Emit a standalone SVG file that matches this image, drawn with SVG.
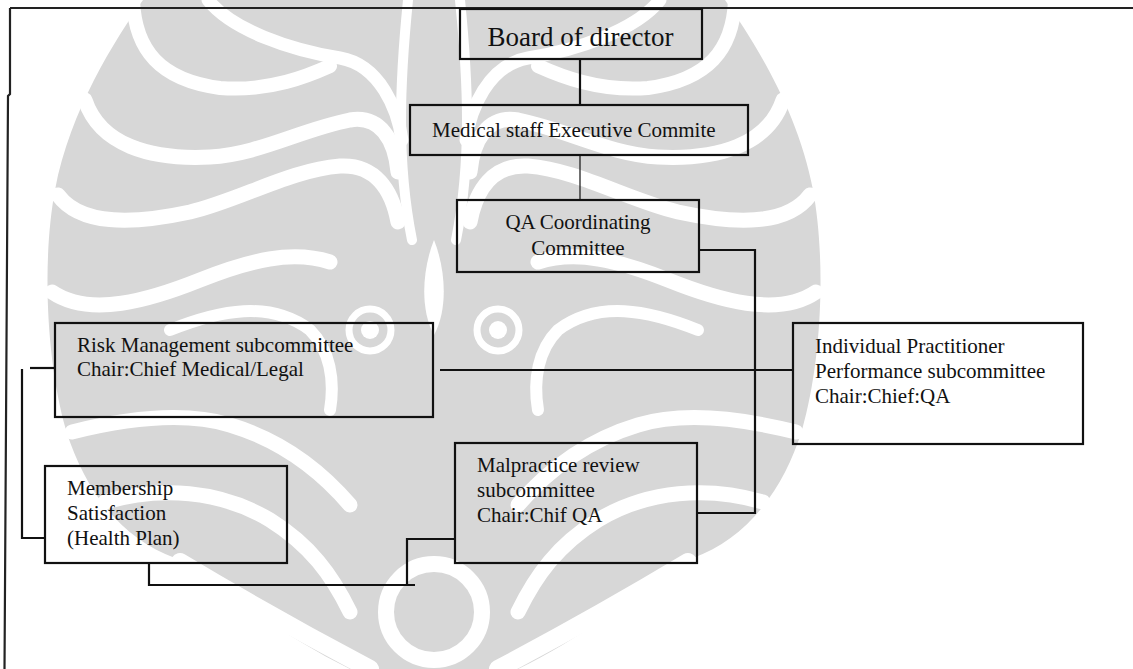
<svg xmlns="http://www.w3.org/2000/svg" width="1133" height="669" viewBox="0 0 1133 669">
  <style>
    .box { fill: none; stroke: #111; stroke-width: 2.2; }
    .lbl { font-family: "Liberation Serif", "Times New Roman", serif; font-size: 21px; fill: #111; }
    .wire { fill: none; stroke: #111; stroke-width: 2.2; }
    .thin { fill: none; stroke: #111; stroke-width: 1.2; }
    .orn { fill: #d7d7d7; }
    .gap { fill: none; stroke: #fff; stroke-linecap: round; }
  </style>
  <defs>
    <!-- one half of the background ornament; mirrored about x=434 -->
    <g id="ornHalf">
      <path class="orn" d="M434,0 L143,0 C115,40 70,110 55,190 C42,260 46,360 66,430 C86,495 125,540 175,558 C230,595 290,640 350,669 L434,669 Z"/>
      <path class="gap" stroke-width="14" d="M133,0 C135,50 160,80 220,88 C270,92 310,75 330,66"/>
      <path class="gap" stroke-width="13" d="M208,0 C232,30 290,50 340,58 C380,65 398,110 402,140"/>
      <path class="gap" stroke-width="15" d="M85,100 C100,145 150,160 210,157 C260,154 300,130 350,120 C380,115 395,140 398,172"/>
      <path class="gap" stroke-width="15" d="M58,195 C80,225 130,225 190,212 C240,200 290,170 340,166 C375,164 392,190 398,222"/>
      <path class="gap" stroke-width="15" d="M52,292 C90,318 150,300 200,280 C250,260 292,250 330,262"/>
      <path class="gap" stroke-width="12" d="M170,330 C220,310 270,300 310,330 C330,350 335,380 330,410"/>
      <path class="gap" stroke-width="15" d="M72,432 C120,420 180,410 230,425 C280,440 320,470 350,505"/>
      <path class="gap" stroke-width="15" d="M105,502 C160,486 220,490 270,520 C310,545 332,575 350,612"/>
      <path class="gap" stroke-width="10" d="M408,0 C400,80 396,160 412,240"/>
      <path class="gap" stroke-width="18" d="M180,562 C230,592 300,632 370,669"/>
      <circle cx="370" cy="330" r="21" fill="none" stroke="#fff" stroke-width="7"/>
      <circle cx="370" cy="330" r="9" fill="#fff"/>
    </g>
  </defs>

  <!-- background ornament -->
  <g id="ornament">
    <use href="#ornHalf"/>
    <use href="#ornHalf" transform="translate(868,0) scale(-1,1)"/>
    <path d="M434,240 C422,270 420,310 434,335 C448,310 446,270 434,240 Z" fill="#fff"/>
    <circle cx="434" cy="612" r="48" fill="none" stroke="#fff" stroke-width="16"/>
  </g>

  <!-- page frame -->
  <path d="M10,8 H1133 M10,8 V94 L8,96 L4.5,669" fill="none" stroke="#222" stroke-width="2.2"/>

  <!-- connectors -->
  <g id="connectors">
    <path class="wire" d="M580,59 V105"/>
    <path class="thin" d="M580,155 V200"/>
    <path class="wire" d="M699,250 H755 V513 H697"/>
    <path class="wire" stroke-width="2.6" d="M440,370 H793"/>
    <path class="wire" d="M30,368 H55"/>
    <path class="wire" d="M22,369 V538 H46"/>
    <path class="wire" d="M149,563 V585 H415"/>
    <path class="wire" d="M407,585 V539 H455"/>
  </g>

  <g id="board">
    <rect class="box" x="460" y="9" width="242" height="50"/>
    <text class="lbl" x="580.5" y="46" text-anchor="middle" style="font-size:27px">Board of director</text>
  </g>

  <g id="medical-exec">
    <rect class="box" x="410" y="105" width="338" height="50"/>
    <text class="lbl" x="432" y="137">Medical staff Executive Commite</text>
  </g>

  <g id="qa-coord">
    <rect class="box" x="457" y="200" width="242" height="72"/>
    <text class="lbl" x="578" y="229" text-anchor="middle">QA Coordinating</text>
    <text class="lbl" x="578" y="255" text-anchor="middle">Committee</text>
  </g>

  <g id="risk">
    <rect class="box" x="55" y="323" width="378" height="94"/>
    <text class="lbl" x="77" y="352">Risk Management subcommittee</text>
    <text class="lbl" x="77" y="376">Chair:Chief Medical/Legal</text>
  </g>

  <g id="practitioner">
    <rect class="box" x="793" y="323" width="290" height="121"/>
    <text class="lbl" x="815" y="353">Individual Practitioner</text>
    <text class="lbl" x="815" y="378">Performance subcommittee</text>
    <text class="lbl" x="815" y="403">Chair:Chief:QA</text>
  </g>

  <g id="membership">
    <rect class="box" x="45" y="466" width="242" height="97"/>
    <text class="lbl" x="67" y="495">Membership</text>
    <text class="lbl" x="67" y="520">Satisfaction</text>
    <text class="lbl" x="67" y="545">(Health Plan)</text>
  </g>

  <g id="malpractice">
    <rect class="box" x="455" y="443" width="242" height="120"/>
    <text class="lbl" x="477" y="472">Malpractice review</text>
    <text class="lbl" x="477" y="497">subcommittee</text>
    <text class="lbl" x="477" y="522">Chair:Chif QA</text>
  </g>
</svg>
